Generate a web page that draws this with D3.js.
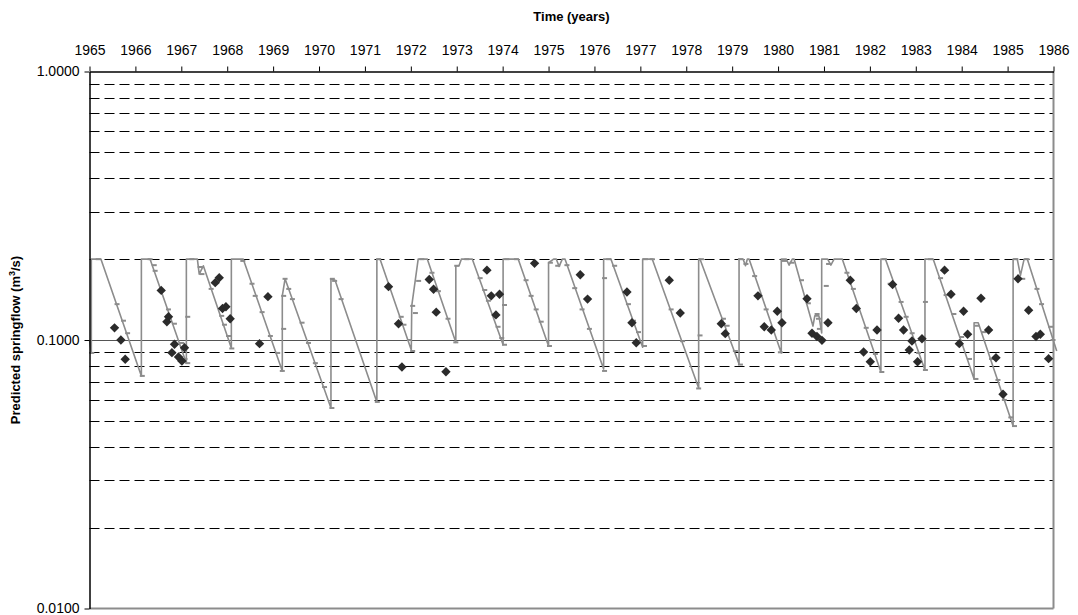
<!DOCTYPE html>
<html>
<head>
<meta charset="utf-8">
<script src="https://cdn.jsdelivr.net/npm/d3@7"></script>
<style>
  body { margin: 0; background: #fff; }
  svg { display: block; font-family: "Liberation Sans", Arial, Helvetica, sans-serif; }
</style>
</head>
<body>
<svg id="chart" width="1078" height="615"></svg>
<script>
// Axis ticks
const yearTicks = d3.range(1965, 1987);
const flowTicks = [1, 0.1, 0.01];
const gridFlows = [0.02, 0.03, 0.04, 0.05, 0.06, 0.07, 0.08, 0.09,
                   0.2, 0.3, 0.4, 0.5, 0.6, 0.7, 0.8, 0.9];

// Simulated springflow (continuous model trace), [year, m3/s]
const modelTrace = [
  [1965.00,0.100],[1965.04,0.0895],[1965.04,0.200],[1965.25,0.200],[1966.13,0.0735],
  [1966.13,0.200],[1966.32,0.200],[1967.11,0.082],[1967.11,0.200],[1967.35,0.200],
  [1967.39,0.176],[1967.48,0.189],[1968.09,0.0934],[1968.09,0.200],[1968.35,0.200],
  [1969.20,0.0767],[1969.20,0.146],[1969.26,0.169],[1970.26,0.0558],[1970.26,0.169],
  [1970.35,0.167],[1971.26,0.0588],[1971.26,0.200],[1971.33,0.200],[1972.01,0.0918],
  [1972.02,0.134],[1972.16,0.200],[1972.36,0.200],[1972.98,0.098],[1972.98,0.189],
  [1973.05,0.189],[1973.10,0.200],[1973.34,0.200],[1974.01,0.096],[1974.01,0.200],
  [1974.34,0.200],[1975.00,0.095],[1975.00,0.194],[1975.11,0.200],[1975.17,0.200],
  [1975.23,0.188],[1975.30,0.200],[1975.36,0.200],[1976.20,0.078],[1976.20,0.200],
  [1976.36,0.200],[1977.05,0.094],[1977.05,0.200],[1977.26,0.200],[1978.27,0.0663],
  [1978.27,0.200],[1978.30,0.200],[1979.15,0.0814],[1979.15,0.200],[1979.24,0.200],
  [1979.29,0.189],[1979.33,0.200],[1979.37,0.200],[1980.07,0.0895],[1980.07,0.200],
  [1980.18,0.200],[1980.24,0.190],[1980.31,0.200],[1980.35,0.200],[1980.76,0.1127],
  [1980.80,0.123],[1980.89,0.123],[1980.95,0.1062],[1980.95,0.200],[1981.08,0.200],
  [1981.15,0.190],[1981.22,0.200],[1981.40,0.200],[1982.24,0.076],[1982.24,0.200],
  [1982.34,0.200],[1983.20,0.0773],[1983.20,0.200],[1983.38,0.200],[1984.27,0.0716],
  [1984.27,0.116],[1984.36,0.116],[1985.12,0.0478],[1985.12,0.200],[1985.21,0.200],
  [1985.28,0.174],[1985.36,0.200],[1985.43,0.200],[1986.07,0.091]
];

// Monthly model output, [year, m3/s]
const modelMonthly = [
  [1965.05,0.0895],[1965.19,0.200],[1965.60,0.136],[1965.74,0.118],[1965.83,0.106],[1966.15,0.0735],
  [1966.32,0.200],[1966.41,0.190],[1966.43,0.181],[1966.72,0.130],[1966.85,0.115],[1967.01,0.0975],
  [1967.08,0.085],[1967.14,0.082],[1967.14,0.122],
  [1967.23,0.200],[1967.41,0.187],[1967.45,0.176],[1967.65,0.155],[1967.88,0.123],[1967.94,0.114],
  [1968.03,0.1035],[1968.10,0.093],
  [1968.34,0.197],[1968.54,0.162],[1968.61,0.146],[1968.76,0.127],[1968.94,0.1035],[1969.10,0.0895],
  [1969.20,0.0767],[1969.23,0.110],[1969.23,0.146],[1969.26,0.169],[1969.34,0.155],[1969.42,0.142],
  [1969.63,0.116],[1969.77,0.0975],[1969.92,0.082],[1970.12,0.0668],[1970.28,0.0558],
  [1970.29,0.169],[1970.34,0.166],[1970.48,0.142],[1971.27,0.0588],[1971.30,0.200],
  [1971.79,0.122],[1971.85,0.114],[1971.97,0.100],[1972.04,0.091],[1972.04,0.134],[1972.10,0.126],
  [1972.17,0.166],[1972.24,0.200],[1972.46,0.178],[1972.60,0.152],[1972.81,0.120],[1972.98,0.098],
  [1973.00,0.189],[1973.22,0.200],[1973.51,0.170],[1973.61,0.1535],[1973.69,0.140],[1973.90,0.112],
  [1973.98,0.1017],[1974.04,0.096],
  [1974.04,0.135],[1974.09,0.200],[1974.30,0.200],[1974.51,0.167],[1974.62,0.146],[1974.73,0.130],
  [1974.84,0.117],[1975.02,0.095],
  [1975.04,0.194],[1975.20,0.189],[1975.40,0.190],[1975.57,0.156],[1975.73,0.130],[1975.89,0.110],
  [1976.22,0.0767],[1976.22,0.170],[1976.31,0.200],[1976.44,0.189],
  [1976.74,0.136],[1976.85,0.118],[1976.96,0.107],[1977.09,0.095],[1977.11,0.200],[1977.26,0.200],
  [1977.67,0.130],[1977.92,0.099],[1978.30,0.104],[1978.27,0.066],[1978.33,0.200],
  [1978.81,0.120],[1978.89,0.113],[1979.07,0.091],[1979.18,0.081],[1979.18,0.200],[1979.30,0.192],
  [1979.49,0.173],[1979.74,0.130],[1980.05,0.090],
  [1980.14,0.197],[1980.30,0.194],[1980.51,0.167],[1980.66,0.137],[1980.85,0.125],[1980.88,0.120],
  [1980.90,0.110],[1981.05,0.159],[1981.10,0.192],[1981.50,0.178],[1981.64,0.155],[1981.92,0.111],
  [1982.06,0.100],[1982.12,0.0887],[1982.26,0.076],[1982.32,0.200],[1982.44,0.162],
  [1982.68,0.1386],[1982.79,0.122],[1982.92,0.106],[1983.06,0.0895],[1983.21,0.0773],[1983.21,0.1386],
  [1983.32,0.200],[1983.54,0.170],[1983.66,0.147],[1983.83,0.125],[1984.00,0.1026],[1984.17,0.085],
  [1984.31,0.0716],[1984.33,0.113],[1984.48,0.107],[1984.65,0.085],[1984.79,0.071],[1984.93,0.0598],
  [1985.07,0.0515],[1985.15,0.0478],[1985.18,0.200],[1985.33,0.169],[1985.42,0.200],[1985.64,0.155],
  [1985.74,0.136],[1985.94,0.112],[1985.99,0.100]
];

// Measured springflow, [year, m3/s]
const measured = [
  [1965.545,0.111],[1965.684,0.100],[1965.778,0.0848],[1966.562,0.153],[1966.721,0.122],
  [1966.686,0.117],[1966.852,0.0964],[1966.795,0.0897],[1966.939,0.0864],[1967.013,0.0835],
  [1967.070,0.0936],[1967.739,0.1635],[1967.826,0.1706],[1967.898,0.131],[1967.972,0.133],
  [1968.065,0.120],[1968.704,0.0969],[1968.887,0.145],[1971.514,0.158],[1971.732,0.115],
  [1971.806,0.0793],[1972.401,0.168],[1972.495,0.1545],[1972.553,0.127],[1972.765,0.0762],
  [1973.658,0.182],[1973.752,0.146],[1973.932,0.148],[1973.854,0.124],[1974.695,0.193],
  [1975.691,0.175],[1975.850,0.142],[1976.708,0.151],[1976.817,0.116],[1976.911,0.0977],
  [1977.630,0.167],[1977.869,0.126],[1978.763,0.115],[1978.850,0.1056],[1979.562,0.146],
  [1979.699,0.112],[1979.852,0.109],[1979.983,0.128],[1980.085,0.116],[1980.630,0.1425],
  [1980.739,0.106],[1980.847,0.103],[1980.956,0.0997],[1981.087,0.116],[1981.573,0.167],
  [1981.704,0.131],[1981.863,0.0902],[1982.009,0.083],[1982.155,0.109],[1982.495,0.161],
  [1982.625,0.1205],[1982.734,0.109],[1982.917,0.0991],[1982.858,0.0918],[1983.039,0.083],
  [1983.135,0.1011],[1983.627,0.182],[1983.767,0.148],[1984.041,0.128],[1983.948,0.0969],
  [1984.129,0.105],[1984.420,0.143],[1984.586,0.109],[1984.747,0.0859],[1984.900,0.0628],
  [1985.227,0.169],[1985.458,0.129],[1985.619,0.103],[1985.713,0.105],[1985.893,0.0852]
];

const svg = d3.select("#chart");
const plotLeft = 89.5, plotRight = 1053.5, plotTop = 71.5, plotBottom = 608.5;

const x = d3.scaleLinear().domain([1965, 1986]).range([plotLeft, plotRight]);
const y = d3.scaleLog().domain([0.01, 1]).range([plotBottom, plotTop]);

const gray = "#8c8c8c";

// Horizontal dashed grid
svg.append("g").selectAll("line").data(gridFlows).join("line")
  .attr("x1", plotLeft).attr("x2", plotRight)
  .attr("y1", d => Math.round(y(d)) + 0.5).attr("y2", d => Math.round(y(d)) + 0.5)
  .attr("stroke", "#000").attr("stroke-width", 1)
  .attr("stroke-dasharray", "10,5");

// Solid reference line at 0.1
svg.append("line")
  .attr("x1", plotLeft).attr("x2", plotRight)
  .attr("y1", Math.round(y(0.1)) + 0.5).attr("y2", Math.round(y(0.1)) + 0.5)
  .attr("stroke", "#555").attr("stroke-width", 1);

// Plot frame (right and bottom)
svg.append("line").attr("x1", plotRight).attr("x2", plotRight).attr("y1", plotTop).attr("y2", plotBottom)
  .attr("stroke", gray).attr("stroke-width", 2);
svg.append("line").attr("x1", plotLeft).attr("x2", plotRight).attr("y1", plotBottom).attr("y2", plotBottom)
  .attr("stroke", gray).attr("stroke-width", 2);

// Model trace
svg.append("path").datum(modelTrace)
  .attr("fill", "none").attr("stroke", gray).attr("stroke-width", 1.6)
  .attr("stroke-linejoin", "round")
  .attr("d", d3.line().x(d => x(d[0])).y(d => y(d[1])));

// Monthly model markers (short dashes)
svg.append("g").selectAll("line").data(modelMonthly).join("line")
  .attr("x1", d => x(d[0]) - 2.5).attr("x2", d => x(d[0]) + 2.5)
  .attr("y1", d => y(d[1])).attr("y2", d => y(d[1]))
  .attr("stroke", gray).attr("stroke-width", 2);

// Measured values (diamonds)
const diamond = d3.symbol().type(d3.symbolSquare).size(44);
svg.append("g").selectAll("path").data(measured).join("path")
  .attr("d", diamond)
  .attr("transform", d => `translate(${x(d[0])},${y(d[1])}) rotate(45)`)
  .attr("fill", "#2b2b2b");

// Top axis (time)
const xAxis = d3.axisTop(x).tickValues(yearTicks).tickFormat(d3.format("d"))
  .tickSizeInner(5).tickSizeOuter(0).tickPadding(12);
const gx = svg.append("g").attr("transform", `translate(0,${plotTop})`).call(xAxis);
gx.select(".domain").attr("stroke", "#000").attr("stroke-width", 1.5);
gx.selectAll(".tick line").attr("stroke", "#000");
gx.selectAll("text").attr("font-size", 14).attr("fill", "#000")
  .attr("font-family", "Liberation Sans, Arial, sans-serif");

// Left axis (springflow)
const yAxis = d3.axisLeft(y).tickValues(flowTicks).tickFormat(d3.format(".4f"))
  .tickSizeInner(5).tickSizeOuter(0).tickPadding(5);
const gy = svg.append("g").attr("transform", `translate(${plotLeft},0)`).call(yAxis);
gy.select(".domain").attr("stroke", "#000").attr("stroke-width", 1.5);
gy.selectAll(".tick line").attr("stroke", "#000");
gy.selectAll("text").attr("font-size", 14).attr("fill", "#000")
  .attr("font-family", "Liberation Sans, Arial, sans-serif");

// Axis titles
svg.append("text")
  .attr("x", (plotLeft + plotRight) / 2).attr("y", 21)
  .attr("text-anchor", "middle").attr("font-size", 13).attr("font-weight", "bold")
  .text("Time (years)");

const yt = svg.append("text")
  .attr("transform", `translate(20,${(plotTop + plotBottom) / 2}) rotate(-90)`)
  .attr("text-anchor", "middle").attr("font-size", 13).attr("font-weight", "bold");
yt.append("tspan").text("Predicted springflow (m");
yt.append("tspan").attr("font-size", 9).attr("dy", -5).text("3");
yt.append("tspan").attr("dy", 5).text("/s)");
</script>
</body>
</html>
